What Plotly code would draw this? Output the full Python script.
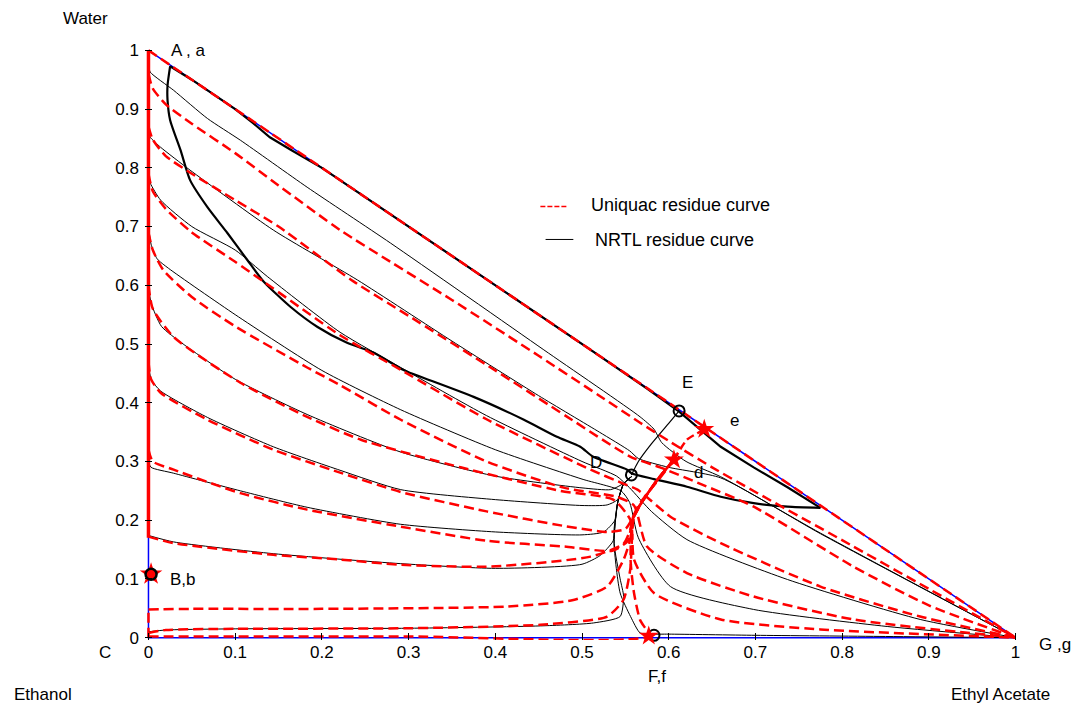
import plotly.graph_objects as go

# ---------------- data (mole fractions: x = ethyl acetate, y = water) ----------------
tick_vals = [0, 0.1, 0.2, 0.3, 0.4, 0.5, 0.6, 0.7, 0.8, 0.9, 1]
tick_text = ["0", "0.1", "0.2", "0.3", "0.4", "0.5", "0.6", "0.7", "0.8", "0.9", "1"]

# triangle edges (binary sides)
edge_x = [0, 0, 1, 0]
edge_y = [1, 0, 0, 1]

# UNIQUAC residue curves (red dashed)
u1_x = [0, 1]
u1_y = [1, 0]
u2_x = [0, 0.005, 0.02, 0.05, 0.1, 0.15, 0.221, 0.279, 0.35, 0.45, 0.52, 0.567, 0.6, 0.65, 0.7, 0.8, 0.9, 1]
u2_y = [0.96, 0.935, 0.908, 0.875, 0.825, 0.77, 0.694, 0.64, 0.575, 0.48, 0.412, 0.366, 0.335, 0.29, 0.248, 0.166, 0.083, 0]
u3_x = [0, 0.005, 0.02, 0.05, 0.1, 0.15, 0.236, 0.3, 0.4, 0.483, 0.556, 0.59, 0.633, 0.698, 0.813, 0.9, 1]
u3_y = [0.87, 0.848, 0.82, 0.79, 0.745, 0.7, 0.607, 0.548, 0.455, 0.376, 0.308, 0.29, 0.264, 0.223, 0.121, 0.055, 0]
u4_x = [0, 0.005, 0.02, 0.05, 0.1, 0.133, 0.221, 0.291, 0.391, 0.51, 0.548, 0.564, 0.602, 0.66, 0.775, 0.89, 1]
u4_y = [0.79, 0.76, 0.73, 0.69, 0.64, 0.606, 0.515, 0.456, 0.371, 0.286, 0.262, 0.252, 0.206, 0.161, 0.087, 0.036, 0]
u5_x = [0, 0.005, 0.017, 0.05, 0.1, 0.183, 0.221, 0.291, 0.39, 0.48, 0.54, 0.56, 0.575, 0.621, 0.698, 0.813, 1]
u5_y = [0.69, 0.66, 0.626, 0.58, 0.53, 0.46, 0.43, 0.371, 0.3, 0.255, 0.24, 0.225, 0.155, 0.11, 0.07, 0.031, 0]
u6_x = [0, 0.005, 0.029, 0.106, 0.183, 0.245, 0.36, 0.475, 0.536, 0.556, 0.56, 0.583, 0.66, 0.775, 1]
u6_y = [0.6, 0.56, 0.512, 0.434, 0.376, 0.337, 0.29, 0.25, 0.235, 0.2, 0.133, 0.076, 0.031, 0.014, 0]
u7_x = [0, 0.003, 0.014, 0.068, 0.144, 0.221, 0.291, 0.39, 0.48, 0.53, 0.55, 0.557, 0.565, 0.575, 0.59, 0.606]
u7_y = [0.47, 0.44, 0.417, 0.371, 0.32, 0.281, 0.248, 0.215, 0.19, 0.18, 0.185, 0.2, 0.225, 0.245, 0.272, 0.303]
u8_x = [0, 0.005, 0.029, 0.106, 0.183, 0.291, 0.39, 0.48, 0.535, 0.553, 0.558, 0.571, 0.587, 0.606]
u8_y = [0.32, 0.3, 0.286, 0.246, 0.218, 0.189, 0.165, 0.155, 0.148, 0.165, 0.2, 0.235, 0.269, 0.303]
u9_x = [0, 0.029, 0.144, 0.221, 0.291, 0.394, 0.51, 0.548, 0.556, 0.56, 0.571, 0.587, 0.606]
u9_y = [0.172, 0.161, 0.141, 0.133, 0.124, 0.121, 0.138, 0.16, 0.185, 0.206, 0.235, 0.269, 0.303]
u10_x = [0, 0.05, 0.2, 0.414, 0.49, 0.529, 0.548, 0.556, 0.559, 0.571, 0.587, 0.606]
u10_y = [0.048, 0.049, 0.049, 0.053, 0.064, 0.087, 0.133, 0.17, 0.206, 0.235, 0.269, 0.303]
u11_x = [0, 0.02, 0.1, 0.3, 0.452, 0.529, 0.548, 0.556, 0.557, 0.56, 0.571, 0.587, 0.606]
u11_y = [0.008, 0.013, 0.015, 0.016, 0.022, 0.036, 0.065, 0.12, 0.15, 0.206, 0.235, 0.269, 0.303]
u12_x = [0, 0.3, 0.577, 0.567, 0.56, 0.556, 0.559, 0.571, 0.587, 0.606]
u12_y = [0.002, 0.002, 0.003, 0.03, 0.076, 0.133, 0.206, 0.235, 0.269, 0.303]
u_axis_x = [0, 0]
u_axis_y = [0.17, 1]
u_axis_low_x = [0, 0]
u_axis_low_y = [0, 0.05]
u_tie_x = [0.606, 0.621, 0.633, 0.641]
u_tie_y = [0.303, 0.337, 0.348, 0.355]

# NRTL residue curves (thin black)
n2_x = [0, 0.002, 0.029, 0.068, 0.106, 0.183, 0.279, 0.456, 0.567, 0.583, 0.592, 0.62, 0.66, 0.775, 1]
n2_y = [0.975, 0.963, 0.932, 0.884, 0.847, 0.767, 0.672, 0.49, 0.376, 0.355, 0.332, 0.3, 0.274, 0.178, 0]
n3_x = [0, 0.002, 0.014, 0.048, 0.144, 0.241, 0.35, 0.45, 0.52, 0.555, 0.565, 0.6, 0.66, 0.775, 1]
n3_y = [0.86, 0.852, 0.835, 0.796, 0.694, 0.609, 0.505, 0.412, 0.35, 0.318, 0.305, 0.29, 0.272, 0.177, 0]
n4_x = [0, 0.002, 0.014, 0.05, 0.1, 0.137, 0.221, 0.291, 0.39, 0.5, 0.54, 0.555, 0.58, 0.621, 0.737, 0.89, 1]
n4_y = [0.785, 0.774, 0.745, 0.7, 0.66, 0.615, 0.52, 0.46, 0.378, 0.3, 0.275, 0.255, 0.215, 0.167, 0.099, 0.031, 0]
n5_x = [0, 0.003, 0.01, 0.023, 0.1, 0.2, 0.291, 0.4, 0.5, 0.545, 0.555, 0.565, 0.602, 0.698, 0.852, 1]
n5_y = [0.7, 0.67, 0.645, 0.629, 0.55, 0.455, 0.388, 0.32, 0.27, 0.25, 0.23, 0.17, 0.087, 0.048, 0.019, 0]
n6_x = [0, 0.003, 0.015, 0.04, 0.1, 0.183, 0.291, 0.4, 0.5, 0.533, 0.545, 0.557]
n6_y = [0.6, 0.57, 0.53, 0.5, 0.44, 0.38, 0.316, 0.275, 0.255, 0.252, 0.26, 0.274]
n7_x = [0, 0.003, 0.014, 0.068, 0.144, 0.221, 0.291, 0.4, 0.5, 0.529, 0.541, 0.548, 0.557]
n7_y = [0.47, 0.44, 0.42, 0.375, 0.325, 0.285, 0.252, 0.235, 0.225, 0.226, 0.235, 0.262, 0.274]
n8_x = [0, 0.003, 0.029, 0.106, 0.183, 0.291, 0.4, 0.5, 0.525, 0.538, 0.541, 0.548, 0.557]
n8_y = [0.3, 0.29, 0.28, 0.25, 0.222, 0.193, 0.18, 0.175, 0.18, 0.2, 0.229, 0.262, 0.274]
n9_x = [0, 0.029, 0.144, 0.291, 0.4, 0.5, 0.521, 0.536, 0.537, 0.541, 0.548, 0.557]
n9_y = [0.174, 0.163, 0.143, 0.126, 0.118, 0.125, 0.14, 0.165, 0.185, 0.229, 0.262, 0.274]
n10_x = [0, 0.02, 0.1, 0.3, 0.452, 0.513, 0.544, 0.548, 0.544, 0.537, 0.541, 0.548, 0.557]
n10_y = [0.01, 0.013, 0.015, 0.016, 0.02, 0.025, 0.036, 0.07, 0.1, 0.161, 0.229, 0.262, 0.274]
n11_x = [1, 0.85, 0.7, 0.6, 0.58, 0.567, 0.556, 0.544, 0.537, 0.541, 0.548, 0.557]
n11_y = [0, 0.002, 0.004, 0.006, 0.006, 0.008, 0.036, 0.076, 0.161, 0.229, 0.262, 0.274]
n_tie_x = [0.557, 0.565, 0.58, 0.6, 0.612]
n_tie_y = [0.277, 0.3, 0.33, 0.365, 0.386]

# binodal (thick black): lower branch and upper branch along the EtOAc-water side
bin_low_x = [0.025, 0.022, 0.022, 0.025, 0.037, 0.048, 0.068, 0.091, 0.114, 0.133, 0.164, 0.195, 0.229, 0.26,
             0.291, 0.3, 0.375, 0.433, 0.471, 0.498, 0.513, 0.552, 0.557, 0.583, 0.621, 0.66, 0.698, 0.737, 0.775]
bin_low_y = [0.973, 0.94, 0.915, 0.881, 0.83, 0.779, 0.733, 0.689, 0.643, 0.606, 0.563, 0.529, 0.502, 0.485,
             0.458, 0.452, 0.41, 0.371, 0.342, 0.325, 0.308, 0.286, 0.28, 0.27, 0.257, 0.24, 0.229, 0.223, 0.221]
bin_up_x = [0.775, 0.737, 0.698, 0.66, 0.612, 0.575, 0.51, 0.4, 0.3, 0.2, 0.165, 0.14, 0.12, 0.1, 0.05, 0.025]
bin_up_y = [0.221, 0.256, 0.29, 0.325, 0.385, 0.424, 0.49, 0.6, 0.7, 0.8, 0.83, 0.852, 0.877, 0.9, 0.95, 0.973]

# special points
open_pts_x = [0.557, 0.612, 0.583]
open_pts_y = [0.277, 0.386, 0.004]
star_pts_x = [0.606, 0.641, 0.577]
star_pts_y = [0.303, 0.355, 0.003]
b_pt_x = [0.003]
b_pt_y = [0.108]

# labels (positions in data units of the triangle diagram)
label_text = ["Water", "A , a", "B,b", "C", "Ethanol", "F,f", "G ,g", "Ethyl Acetate", "D", "E", "d", "e"]
label_x = [-0.073, 0.046, 0.040, -0.050, -0.122, 0.586, 1.045, 0.983, 0.516, 0.622, 0.634, 0.676]
label_y = [1.054, 1.0, 0.099, -0.026, -0.097, -0.066, -0.012, -0.097, 0.298, 0.434, 0.282, 0.369]
legend_text = ["Uniquac residue curve", "NRTL residue curve"]

# ---------------- figure ----------------
RED = "#ff0000"
FONT = "Liberation Sans, Arial, sans-serif"
AX_RANGE = [-0.004, 1.004]


def to_paper(v):
    return (v - AX_RANGE[0]) / (AX_RANGE[1] - AX_RANGE[0])


fig = go.Figure()


def add_line(x, y, color, width, dash="solid", smooth=True):
    fig.add_trace(go.Scatter(
        x=x, y=y, mode="lines",
        line=dict(color=color, width=width, dash=dash,
                  shape="spline" if smooth else "linear", smoothing=0.6),
        showlegend=False, hoverinfo="skip"))


add_line(edge_x, edge_y, "#0000ff", 1.5, smooth=False)

nrtl = [(n2_x, n2_y), (n3_x, n3_y), (n4_x, n4_y), (n5_x, n5_y), (n6_x, n6_y), (n7_x, n7_y),
        (n8_x, n8_y), (n9_x, n9_y), (n10_x, n10_y), (n11_x, n11_y)]
for cx, cy in nrtl:
    add_line(cx, cy, "black", 1)
add_line(n_tie_x, n_tie_y, "black", 1.2)

add_line(bin_low_x, bin_low_y, "black", 2.2)
add_line(bin_up_x, bin_up_y, "black", 2.2, smooth=False)

uniq = [(u2_x, u2_y), (u3_x, u3_y), (u4_x, u4_y), (u5_x, u5_y), (u6_x, u6_y), (u7_x, u7_y),
        (u8_x, u8_y), (u9_x, u9_y), (u10_x, u10_y), (u11_x, u11_y), (u12_x, u12_y)]
for cx, cy in uniq:
    add_line(cx, cy, RED, 2.5, dash="10px,5px")
add_line(u1_x, u1_y, RED, 2.5, dash="10px,5px", smooth=False)
add_line(u_axis_x, u_axis_y, RED, 3.5, smooth=False)
add_line(u_axis_low_x, u_axis_low_y, RED, 2.5, dash="10px,5px", smooth=False)
add_line(u_tie_x, u_tie_y, RED, 2.5, dash="8px,4px")

# markers
fig.add_trace(go.Scatter(x=open_pts_x, y=open_pts_y, mode="markers",
                         marker=dict(symbol="circle-open", size=11, color="black", line=dict(width=2)),
                         showlegend=False, hoverinfo="skip", cliponaxis=False))
fig.add_trace(go.Scatter(x=star_pts_x, y=star_pts_y, mode="markers",
                         marker=dict(symbol="star", size=15, color=RED),
                         showlegend=False, hoverinfo="skip", cliponaxis=False))
fig.add_trace(go.Scatter(x=b_pt_x, y=b_pt_y, mode="markers",
                         marker=dict(symbol="star", size=17, color=RED),
                         showlegend=False, hoverinfo="skip", cliponaxis=False))
fig.add_trace(go.Scatter(x=b_pt_x, y=b_pt_y, mode="markers",
                         marker=dict(symbol="circle", size=11, color=RED, line=dict(color="black", width=2.5)),
                         showlegend=False, hoverinfo="skip", cliponaxis=False))

# legend (drawn manually)
fig.add_shape(type="line", x0=0.452, x1=0.483, y0=0.734, y1=0.734, xref="x", yref="y",
              line=dict(color=RED, width=1.5, dash="5px,2px"))
fig.add_shape(type="line", x0=0.458, x1=0.49, y0=0.678, y1=0.678, xref="x", yref="y",
              line=dict(color="black", width=1))
fig.add_annotation(x=to_paper(0.5075), y=to_paper(0.736), xref="paper", yref="paper", text=legend_text[0],
                   showarrow=False, xanchor="left", yanchor="middle",
                   font=dict(family=FONT, size=18, color="black"))
fig.add_annotation(x=to_paper(0.513), y=to_paper(0.677), xref="paper", yref="paper", text=legend_text[1],
                   showarrow=False, xanchor="left", yanchor="middle",
                   font=dict(family=FONT, size=18, color="black"))

for t, lx, ly in zip(label_text, label_x, label_y):
    fig.add_annotation(x=to_paper(lx), y=to_paper(ly), xref="paper", yref="paper", text=t, showarrow=False,
                       xanchor="center", yanchor="middle",
                       font=dict(family=FONT, size=17, color="black"))

axis_common = dict(range=AX_RANGE, tickvals=tick_vals, ticktext=tick_text,
                   ticks="inside", ticklen=7, tickwidth=1, tickcolor="black",
                   showgrid=False, zeroline=False, showline=False,
                   tickfont=dict(family=FONT, size=17, color="black"), fixedrange=True)

fig.update_layout(
    width=1077, height=706, autosize=False,
    margin=dict(l=145, r=58, t=48, b=66, pad=0),
    plot_bgcolor="white", paper_bgcolor="white",
    xaxis=axis_common, yaxis=dict(axis_common, ticklabelstandoff=5),
    showlegend=False,
)

fig.write_html("out.html", config={"displayModeBar": False},
               post_script="document.body.style.margin='0px';document.body.style.overflow='hidden';")
